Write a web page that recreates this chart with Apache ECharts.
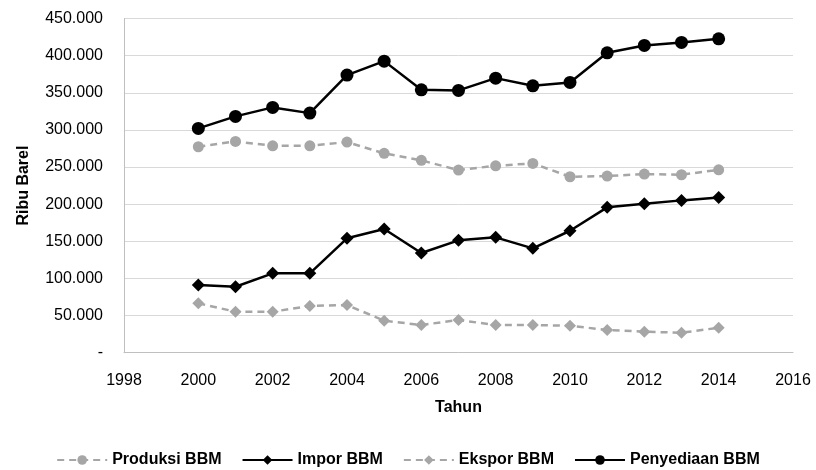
<!DOCTYPE html>
<html>
<head>
<meta charset="utf-8">
<script src="https://cdn.jsdelivr.net/npm/echarts@6/dist/echarts.min.js"></script>
<style>
  html, body { margin: 0; padding: 0; background: #fff; }
  #chart { width: 816px; height: 470px; }
</style>
</head>
<body>
<div id="chart"></div>
<script>
// Tahun dan volume BBM (ribu barel)
const years = [2000, 2001, 2002, 2003, 2004, 2005, 2006, 2007, 2008, 2009, 2010, 2011, 2012, 2013, 2014];
const produksi = [277300, 284500, 278600, 278600, 283600, 268400, 259000, 245900, 251700, 254900, 236900, 237800, 240500, 239600, 246300];
const impor = [91100, 88800, 106900, 106900, 154000, 166500, 134200, 151300, 155300, 140500, 164200, 195700, 200500, 205100, 209100];
const ekspor = [66500, 55200, 55200, 62900, 64200, 43100, 37300, 44000, 37300, 37300, 36300, 30600, 28300, 26900, 33600];
const penyediaan = [302000, 318200, 330300, 322600, 373800, 392600, 354000, 353200, 369700, 359400, 363900, 403800, 413700, 417800, 422600];
const seriesNames = ['Produksi BBM', 'Impor BBM', 'Ekspor BBM', 'Penyediaan BBM'];

const font = 'Liberation Sans, Arial, sans-serif';
const grey = '#a6a6a6';
const black = '#000000';

function pairs(vals) {
  return years.map((y, i) => [y, vals[i]]);
}

// Ribuan dipisah titik, nol ditulis sebagai tanda hubung
function fmt(v) {
  if (v === 0) return '-';
  return String(v).replace(/\B(?=(\d{3})+(?!\d))/g, '.');
}

function lineSeries(name, vals, color, dashed, symbol, size) {
  return {
    name: name,
    type: 'line',
    data: pairs(vals),
    symbol: symbol,
    symbolSize: size,
    itemStyle: { color: color },
    lineStyle: { color: color, width: 2.5, type: dashed ? [7, 5] : 'solid' },
    emphasis: { disabled: true },
    z: dashed ? 2 : 3
  };
}

const chart = echarts.init(document.getElementById('chart'), null, { renderer: 'canvas' });
chart.setOption({
  animation: false,
  backgroundColor: '#fff',
  textStyle: { fontFamily: font },
  grid: { left: 124, right: 23, top: 18.5, bottom: 117.3, containLabel: false },
  legend: {
    bottom: -3,
    left: 'center',
    itemWidth: 50,
    itemHeight: 12,
    itemGap: 20,
    textStyle: { fontSize: 16, fontWeight: 'bold', color: '#000', fontFamily: font },
    data: seriesNames
  },
  xAxis: {
    type: 'value',
    min: 1998,
    max: 2016,
    interval: 2,
    name: 'Tahun',
    nameLocation: 'middle',
    nameGap: 47,
    nameTextStyle: { fontSize: 16, fontWeight: 'bold', color: '#000' },
    axisLine: { show: true, lineStyle: { color: '#bfbfbf', width: 1 } },
    axisTick: { show: false },
    splitLine: { show: false },
    axisLabel: { fontSize: 16, color: '#000', margin: 20, formatter: v => String(v) }
  },
  yAxis: {
    type: 'value',
    min: 0,
    max: 450000,
    interval: 50000,
    name: 'Ribu Barel',
    nameLocation: 'middle',
    nameGap: 92,
    nameRotate: 90,
    nameTextStyle: { fontSize: 16, fontWeight: 'bold', color: '#000' },
    axisLine: { show: true, lineStyle: { color: '#bfbfbf', width: 1 } },
    axisTick: { show: false },
    splitLine: { show: true, lineStyle: { color: '#d9d9d9', width: 1 } },
    axisLabel: { fontSize: 16, color: '#000', margin: 21, formatter: fmt }
  },
  series: [
    lineSeries('Produksi BBM', produksi, grey, true, 'circle', 11),
    lineSeries('Impor BBM', impor, black, false, 'diamond', 13),
    lineSeries('Ekspor BBM', ekspor, grey, true, 'diamond', 12),
    lineSeries('Penyediaan BBM', penyediaan, black, false, 'circle', 13)
  ]
});
</script>
</body>
</html>
